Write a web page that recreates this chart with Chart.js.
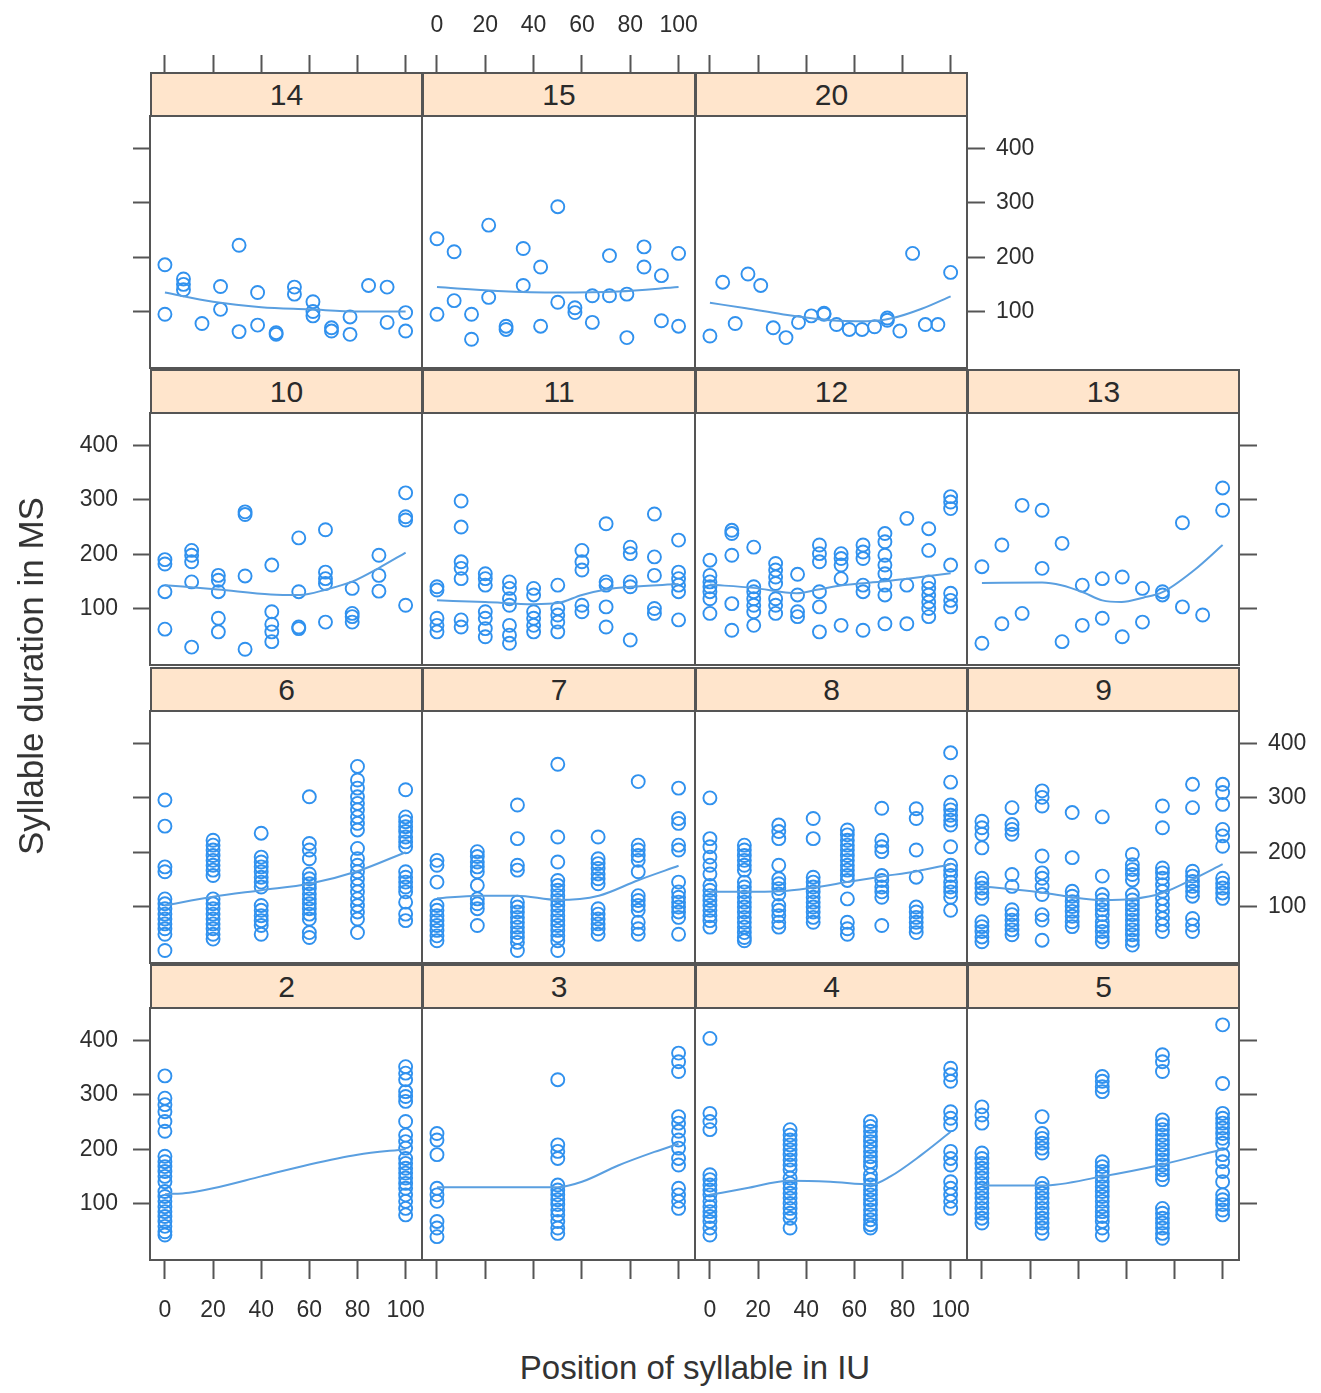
<!DOCTYPE html>
<html>
<head>
<meta charset="utf-8">
<script src="https://cdn.jsdelivr.net/npm/chart.js@4.4.1/dist/chart.umd.min.js"></script>
<style>
html,body{margin:0;padding:0;background:#fff}
#wrap{position:relative;width:1321px;height:1393px;overflow:hidden;font-family:"Liberation Sans",Arial,sans-serif;background:#fff}
#wrap canvas{position:absolute;z-index:1}
.strip{position:absolute;z-index:10;background:#ffe5cc;border:2px solid #555;box-sizing:border-box;text-align:center;color:#2a2a2a;font-size:30px;line-height:41px}
.title{position:absolute;z-index:10;color:#333;white-space:nowrap;transform:translate(-50%,-50%)}
</style>
</head>
<body>
<div id="wrap"></div>
<script>
// ---------------- DATA ----------------
const xTicks = [0, 20, 40, 60, 80, 100];
const yTicks = [100, 200, 300, 400];
const xTitle = "Position of syllable in IU";
const yTitle = "Syllable duration in MS";

// syllable positions (percent of IU) for each IU length
const pos2  = [0, 100];
const pos3  = [0, 50, 100];
const pos4  = [0, 33.3, 66.7, 100];
const pos5  = [0, 25, 50, 75, 100];
const pos6  = [0, 20, 40, 60, 80, 100];
const pos7  = [0, 16.7, 33.3, 50, 66.7, 83.3, 100];
const pos8  = [0, 14.3, 28.6, 42.9, 57.1, 71.4, 85.7, 100];
const pos9  = [0, 12.5, 25, 37.5, 50, 62.5, 75, 87.5, 100];
const pos10 = [0, 11.1, 22.2, 33.3, 44.4, 55.6, 66.7, 77.8, 88.9, 100];
const pos11 = [0, 10, 20, 30, 40, 50, 60, 70, 80, 90, 100];
const pos12 = [0, 9.1, 18.2, 27.3, 36.4, 45.5, 54.5, 63.6, 72.7, 81.8, 90.9, 100];
const pos13 = [0, 8.3, 16.7, 25, 33.3, 41.7, 50, 58.3, 66.7, 75, 83.3, 91.7, 100];
const pos14 = [0, 7.7, 15.4, 23.1, 30.8, 38.5, 46.2, 53.8, 61.5, 69.2, 76.9, 84.6, 92.3, 100];
const pos15 = [0, 7.1, 14.3, 21.4, 28.6, 35.7, 42.9, 50, 57.1, 64.3, 71.4, 78.6, 85.7, 92.9, 100];
const pos20 = [0, 5.3, 10.5, 15.8, 21.1, 26.3, 31.6, 36.8, 42.1, 47.4, 52.6, 57.9, 63.2, 68.4, 73.7, 78.9, 84.2, 89.5, 94.7, 100];

// durations (ms), one list per syllable position
const dur14 = [[186,95],[160,150,140],[78],[146,104],[222,63],[135,75],[61,58],[145,132],[118,100,92],[64,70],[90,58],[148],[145,80],[98,64]];
const dur15 = [[234,95],[210,120],[95,49],[259,126],[73,67],[216,148],[182,73],[293,117],[107,98],[129,80],[203,129],[132,52],[219,182],[166,83],[207,73]];
const dur20 = [[55],[154],[78],[169],[148],[70],[52],[80],[92],[95,97],[76],[67],[67],[72],[88,84],[64],[207],[76],[76],[172]];
const dur10 = [[190,182,131,62],[207,198,186,149,29],[161,152,131,82,57],[278,273,160,25],[180,94,71,57,39],[230,131,66,63],[245,167,155,146,75],[137,91,85,75],[198,161,132],[313,269,263,106]];
const dur11 = [[140,134,82,69,57],[298,250,186,174,155,79,66],[164,155,143,94,82,63,48],[149,137,118,106,69,51,36],[137,125,94,82,69,57],[143,100,88,75,57],[207,186,171,106,94],[256,149,143,103,66],[213,201,149,140,42],[274,195,161,100,91],[226,167,155,143,131,79]];
const dur12 = [[189,161,149,140,131,118,91],[244,238,198,109,60],[213,140,131,118,106,94,69],[183,171,158,146,118,106,91],[163,125,94,85],[217,201,186,131,103,57],[201,192,180,155,69],[217,204,192,143,131,60],[238,223,198,180,164,143,125,72],[266,143,72],[247,207,149,137,125,112,100,85],[306,296,284,180,128,115,103]];
const dur13 = [[177,36],[217,72],[290,91],[281,174],[220,39],[143,69],[155,82],[158,48],[137,75],[131,125],[258,103],[88],[322,281]];
const dur6 = [[296,248,173,164,114,105,96,86,77,68,59,49,19],[222,213,204,194,185,176,167,157,114,105,96,86,77,68,59,49,40],[235,191,182,173,164,154,145,136,102,93,83,74,65,49],[302,216,204,188,160,151,142,133,123,114,105,96,86,77,52,43],[358,333,318,302,290,278,265,253,241,207,188,176,164,151,139,127,114,102,90,77,52],[315,265,256,247,238,228,219,210,164,154,145,136,127,108,86,74]];
const dur7 = [[185,176,145,102,93,83,74,65,56,46,37],[201,192,182,173,164,139,114,105,96,65],[287,225,176,167,108,99,90,80,71,62,52,43,34,19],[362,228,182,148,139,130,120,111,102,93,83,74,65,56,46,37,19],[228,188,179,170,160,151,142,96,86,77,68,59,49],[330,213,204,194,185,164,120,111,102,93,71,59,49],[318,262,253,213,204,145,127,117,108,99,90,80,49]];
const dur8 = [[300,225,210,191,176,160,139,130,120,111,102,93,83,74,62],[213,204,194,185,176,167,145,136,127,117,108,99,90,80,71,62,52,43,37],[250,238,225,176,151,142,133,123,102,93,83,71,62],[262,225,154,145,136,127,117,108,99,90,80,71],[241,232,222,213,204,194,185,176,167,157,148,114,71,59,49],[281,222,210,201,157,148,136,127,117,65],[280,262,204,154,99,90,80,71,62,52],[383,329,287,278,268,259,250,210,176,167,157,145,136,127,117,93]];
const dur9 = [[257,245,233,208,152,143,134,125,115,72,63,54,44,35],[282,251,242,233,159,137,94,85,75,66,57,48],[313,301,285,193,162,152,137,122,85,75,38],[273,190,128,119,109,100,91,82,72,63],[265,156,122,112,103,94,85,72,63,54,44,35],[196,177,168,159,149,122,112,103,94,85,75,66,57,48,38,29],[285,245,171,162,152,140,128,115,103,91,78,66,54],[325,282,165,156,146,137,128,119,78,66,54],[325,310,288,242,230,211,152,143,134,125,115]];
const dur2 = [[335,294,282,269,251,233,187,177,168,159,150,140,122,113,104,94,85,76,67,58,48,42],[352,340,328,306,297,288,251,226,214,202,183,174,165,156,147,137,128,116,104,91,79]];
const dur3 = [[229,217,190,128,116,104,67,55,39],[328,208,196,183,134,125,116,107,98,88,79,67,55,45],[377,361,343,260,248,233,217,202,183,171,128,116,104,91]];
const dur4 = [[404,266,251,236,153,144,134,125,116,104,94,85,76,67,55,42],[236,226,217,208,199,190,180,171,162,147,137,128,119,110,100,91,82,73,55],[251,242,233,223,214,205,196,186,177,168,153,144,134,125,116,107,98,88,79,70,61,55],[349,337,325,269,257,245,196,183,171,140,128,116,104,91]];
const dur5 = [[278,263,248,193,183,174,165,156,147,137,128,119,110,101,91,82,73,64],[260,229,220,211,202,193,137,128,119,110,101,91,82,73,64,55,45],[334,325,315,306,177,168,159,150,140,131,122,113,104,94,85,76,67,55,42],[374,361,343,254,245,236,226,217,208,199,190,180,171,162,153,144,91,82,73,64,55,45,36],[429,321,266,257,248,239,229,220,211,190,177,159,140,116,107,98,88,79]];

// smooth (loess) curves: [position, duration]
const fit14 = [[0,135],[20,118],[40,108],[60,104],[80,100],[100,100]];
const fit15 = [[0,145],[25,138],[50,135],[75,137],[100,145]];
const fit20 = [[0,116],[15,106],[30,95],[50,84],[65,82],[76,88],[88,105],[100,128]];
const fit10 = [[0,143],[22,135],[44,126],[56,125],[67,135],[78,150],[89,175],[100,203]];
const fit11 = [[0,115],[20,112],[40,108],[50,110],[60,125],[70,135],[80,140],[100,145]];
const fit12 = [[0,144],[18,138],[36,128],[45,135],[55,143],[73,150],[82,155],[100,165]];
const fit13 = [[0,147],[25,148],[33,143],[42,130],[50,115],[58,112],[67,120],[75,130],[88,170],[100,217]];
const fit6  = [[0,102],[20,118],[40,130],[60,142],[80,165],[100,200]];
const fit7  = [[0,115],[17,120],[33,120],[50,112],[67,120],[83,148],[100,175]];
const fit8  = [[0,127],[14,127],[29,128],[43,135],[57,145],[71,155],[86,165],[100,178]];
const fit9  = [[0,137],[12.5,132],[25,126],[37.5,117],[50,112],[62.5,114],[75,125],[87.5,150],[100,178]];
const fit2  = [[0,117],[10,120],[20,128],[40,150],[60,172],[80,190],[100,200]];
const fit3  = [[0,130],[25,130],[50,130],[60,140],[75,170],[90,195],[100,210]];
const fit4  = [[0,116],[15,128],[33,142],[50,140],[67,135],[75,150],[88,190],[100,232]];
const fit5  = [[0,133],[25,133],[50,150],[75,172],[100,200]];

const panelGrid = [[14,15,20,null],[10,11,12,13],[6,7,8,9],[2,3,4,5]];
const panels = {
  14:{pos:pos14,dur:dur14,fit:fit14}, 15:{pos:pos15,dur:dur15,fit:fit15}, 20:{pos:pos20,dur:dur20,fit:fit20},
  10:{pos:pos10,dur:dur10,fit:fit10}, 11:{pos:pos11,dur:dur11,fit:fit11}, 12:{pos:pos12,dur:dur12,fit:fit12}, 13:{pos:pos13,dur:dur13,fit:fit13},
  6:{pos:pos6,dur:dur6,fit:fit6}, 7:{pos:pos7,dur:dur7,fit:fit7}, 8:{pos:pos8,dur:dur8,fit:fit8}, 9:{pos:pos9,dur:dur9,fit:fit9},
  2:{pos:pos2,dur:dur2,fit:fit2}, 3:{pos:pos3,dur:dur3,fit:fit3}, 4:{pos:pos4,dur:dur4,fit:fit4}, 5:{pos:pos5,dur:dur5,fit:fit5}
};

// ---------------- LAYOUT / STYLE ----------------
const XMIN = -6.2, XMAX = 106.8, YMIN = -4, YMAX = 460;
const COLEDGE = [150, 422, 695, 967, 1239];
const STRIPTOP = [72, 369, 667, 964];
const SH = 44, PH = 252;
const M = {l: 100, r: 100, t: 110, b: 80};
const FONT = '"Liberation Sans", Arial, sans-serif';
const PT = '#3091ee', LN = '#5a9fe0', FRAME = '#555', TXT = '#2e2e2e';

const wrap = document.getElementById('wrap');

function axis(kind, position, marks, labels, size, tickLen, pad, ticks) {
  return {
    type: 'linear', axis: kind, position: position,
    min: kind === 'x' ? XMIN : YMIN, max: kind === 'x' ? XMAX : YMAX,
    afterBuildTicks: s => { s.ticks = ticks.map(v => ({value: v})); },
    afterFit: s => { if (kind === 'x') s.height = size; else s.width = size; },
    grid: {display: marks, drawOnChartArea: false, drawTicks: true, tickLength: tickLen, tickWidth: 2, tickColor: FRAME},
    border: {display: true, color: FRAME, width: 2},
    ticks: {display: labels, padding: pad, color: TXT, font: {family: FONT, size: 23}, maxRotation: 0, autoSkip: false}
  };
}

panelGrid.forEach((row, r) => {
  const last = row.reduce((a, v, i) => v !== null ? i : a, 0);
  row.forEach((id, c) => {
    if (id === null) return;
    const p = panels[id];
    const left = COLEDGE[c], w = COLEDGE[c + 1] - COLEDGE[c];
    const ptop = STRIPTOP[r] + SH;
    // strip
    const st = document.createElement('div');
    st.className = 'strip';
    st.style.left = left + 'px'; st.style.top = STRIPTOP[r] + 'px';
    st.style.width = (w + 1) + 'px'; st.style.height = (SH + 1) + 'px';
    st.textContent = String(id);
    wrap.appendChild(st);
    // canvas
    const cv = document.createElement('canvas');
    cv.width = w + M.l + M.r; cv.height = PH + M.t + M.b;
    cv.style.left = (left - M.l) + 'px'; cv.style.top = (ptop - M.t) + 'px';
    cv.style.width = cv.width + 'px'; cv.style.height = cv.height + 'px';
    wrap.appendChild(cv);

    const pts = [];
    p.dur.forEach((arr, i) => arr.forEach(v => pts.push({x: p.pos[i], y: v})));
    const fitPts = p.fit.map(d => ({x: d[0], y: d[1]}));

    const right = (c === last);
    new Chart(cv, {
      type: 'scatter',
      data: {datasets: [
        {type: 'line', data: fitPts, borderColor: LN, borderWidth: 2, pointRadius: 0, fill: false, cubicInterpolationMode: 'monotone', xAxisID: 'x', yAxisID: 'y'},
        {type: 'scatter', data: pts, borderColor: PT, backgroundColor: 'rgba(0,0,0,0)', pointRadius: 6.5, pointBorderWidth: 1.9, pointStyle: 'circle', xAxisID: 'x', yAxisID: 'y'}
      ]},
      options: {
        responsive: false, animation: false, devicePixelRatio: 1,
        events: [],
        layout: {padding: 0},
        plugins: {legend: {display: false}, tooltip: {enabled: false}, title: {display: false}},
        scales: {
          x:  axis('x', 'bottom', r === 3, r === 3 && (c === 0 || c === 2), M.b, 19, 18, xTicks),
          x2: axis('x', 'top', r === 0, r === 0 && c === 1, M.t, SH + 17, 16, xTicks),
          y:  axis('y', 'left', c === 0, c === 0 && (r === 1 || r === 3), M.l, 17, 15, yTicks),
          y2: axis('y', 'right', right, right && (r === 0 || r === 2), M.r, 18, 11, yTicks)
        }
      }
    });
  });
});

// axis titles
const xt = document.createElement('div');
xt.className = 'title'; xt.textContent = xTitle;
xt.style.left = '695px'; xt.style.top = '1368px'; xt.style.fontSize = '33px';
wrap.appendChild(xt);
const yt = document.createElement('div');
yt.className = 'title'; yt.textContent = yTitle;
yt.style.left = '31px'; yt.style.top = '676px'; yt.style.fontSize = '35px';
yt.style.transform = 'translate(-50%,-50%) rotate(-90deg)';
wrap.appendChild(yt);
</script>
</body>
</html>
